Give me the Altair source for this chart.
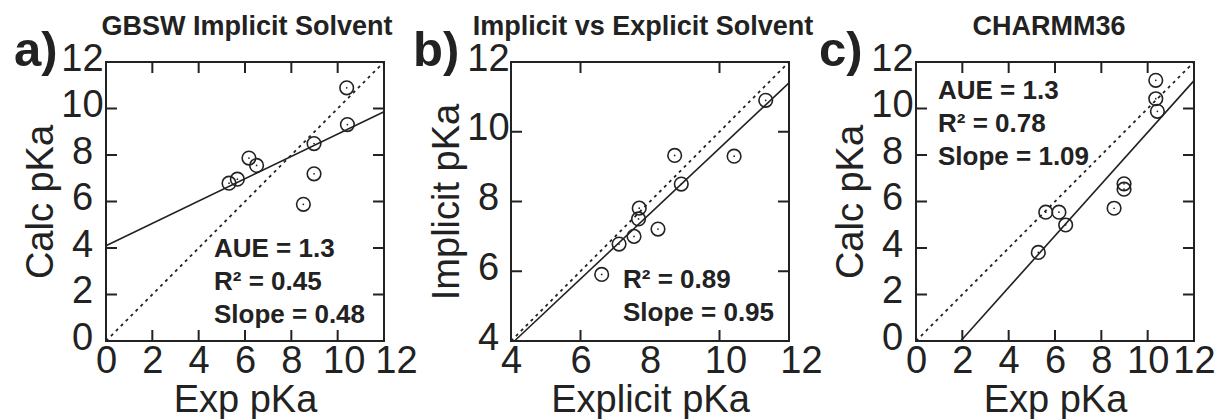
import altair as alt
import pandas as pd

# ---- a) GBSW implicit solvent: calculated vs experimental pKa ----
a_exp = [5.31, 5.67, 6.17, 6.50, 8.52, 8.98, 8.98, 10.39, 10.42]
a_calc = [6.79, 6.96, 7.87, 7.55, 5.88, 8.49, 7.19, 10.89, 9.31]
a_fit_x = [0.0, 12.0]
a_fit_y = [4.10, 9.86]
a_stats = ["AUE = 1.3", "R² = 0.45", "Slope = 0.48"]

# ---- b) implicit vs explicit solvent pKa ----
b_explicit = [6.61, 7.11, 7.54, 7.69, 7.67, 8.23, 8.71, 8.90, 10.42, 11.33]
b_implicit = [5.91, 6.78, 7.00, 7.81, 7.50, 7.21, 9.32, 8.50, 9.30, 10.90]
b_fit_x = [4.10, 12.0]
b_fit_y = [4.00, 11.40]
b_stats = ["R² = 0.89", "Slope = 0.95"]

# ---- c) CHARMM36: calculated vs experimental pKa ----
c_exp = [5.28, 5.60, 6.17, 6.46, 8.55, 8.98, 8.98, 10.35, 10.35, 10.42]
c_calc = [3.81, 5.54, 5.54, 4.99, 5.71, 6.76, 6.53, 11.21, 10.42, 9.88]
c_fit_x = [1.93, 12.0]
c_fit_y = [0.00, 11.20]
c_stats = ["AUE = 1.3", "R² = 0.78", "Slope = 1.09"]

W, H = 278, 279
INK = "#222222"
FONT = "Liberation Sans"
TICK = 11

# two-digit x labels sit a little right of their tick in panels a and b
SPREAD = alt.ExprRef("datum.value == 12 ? 12 : (datum.value == 10 ? 6 : 0)")


def one_row():
    return pd.DataFrame({"k": [0]})


def panel(xs, ys, fit_x, fit_y, lo, hi, xticks, yticks, x_title, y_title,
          title, title_dx, letter, letter_dx, stats, stats_x, stats_y,
          x_shift, y_pad):
    xs_ = alt.Scale(domain=[lo, hi], nice=False, zero=False)
    ys_ = alt.Scale(domain=[lo, hi], nice=False, zero=False)
    labels = list(range(lo, hi + 1, 2))
    xax = alt.Axis(values=labels, title=x_title, labelOffset=x_shift)
    # y labels are centred in a column left of the frame
    yax = alt.Axis(values=labels, title=y_title, labelAlign="center",
                   labelPadding=y_pad)

    def X(f):
        return alt.X(f, scale=xs_, axis=xax)

    def Y(f):
        return alt.Y(f, scale=ys_, axis=yax)

    pts = pd.DataFrame({"x": xs, "y": ys})
    circles = alt.Chart(pts).mark_point(
        shape="circle", filled=False, size=185, strokeWidth=1.6,
        color=INK, opacity=1
    ).encode(x=X("x:Q"), y=Y("y:Q"))
    dots = alt.Chart(pts).mark_circle(size=3, color=INK, opacity=1).encode(
        x=X("x:Q"), y=Y("y:Q"))

    diag = alt.Chart(pd.DataFrame({"x": [lo, hi], "y": [lo, hi]})).mark_line(
        color=INK, strokeWidth=1.8, strokeDash=[3, 4]
    ).encode(x=X("x:Q"), y=Y("y:Q"))
    fit = alt.Chart(pd.DataFrame({"x": fit_x, "y": fit_y})).mark_line(
        color=INK, strokeWidth=1.6
    ).encode(x=X("x:Q"), y=Y("y:Q"))

    # inward ticks on all four sides of the frame
    xt = alt.Chart(pd.DataFrame({"x": xticks}))
    yt = alt.Chart(pd.DataFrame({"y": yticks}))
    tick_bottom = xt.mark_rule(color=INK, strokeWidth=2).encode(
        x=X("x:Q"), y=alt.value(H), y2=alt.value(H - TICK))
    tick_top = xt.mark_rule(color=INK, strokeWidth=2).encode(
        x=X("x:Q"), y=alt.value(0), y2=alt.value(TICK))
    tick_left = yt.mark_rule(color=INK, strokeWidth=2).encode(
        y=Y("y:Q"), x=alt.value(0), x2=alt.value(TICK))
    tick_right = yt.mark_rule(color=INK, strokeWidth=2).encode(
        y=Y("y:Q"), x=alt.value(W), x2=alt.value(W - TICK))

    heading = alt.Chart(one_row()).mark_text(
        font=FONT, fontSize=27, fontWeight="bold", color=INK,
        align="center", baseline="alphabetic"
    ).encode(x=alt.value(W / 2 + title_dx), y=alt.value(-27), text=alt.value(title))

    tag = alt.Chart(one_row()).mark_text(
        font=FONT, fontSize=49, fontWeight="bold", color=INK,
        align="left", baseline="alphabetic"
    ).encode(x=alt.value(letter_dx), y=alt.value(4), text=alt.value(letter))

    note = alt.Chart(one_row()).mark_text(
        font=FONT, fontSize=26, fontWeight="bold", color=INK,
        align="left", baseline="alphabetic", lineBreak="\n", lineHeight=33
    ).encode(x=alt.value(stats_x), y=alt.value(stats_y),
             text=alt.value("\n".join(stats)))

    return alt.layer(
        diag, fit, circles, dots,
        tick_bottom, tick_top, tick_left, tick_right,
        note, heading, tag,
    ).properties(width=W, height=H)


pa = panel(a_exp, a_calc, a_fit_x, a_fit_y, 0, 12,
           [2, 4, 6, 8, 10], [2, 4, 6, 8, 10],
           "Exp pKa", "Calc pKa", "GBSW Implicit Solvent", 2, "a)", -92,
           a_stats, 108, 195, SPREAD, 24)
pb = panel(b_explicit, b_implicit, b_fit_x, b_fit_y, 4, 12,
           [6, 10], [6, 8, 10],
           "Explicit pKa", "Implicit pKa", "Implicit vs Explicit Solvent", -7, "b)", -98,
           b_stats, 112, 226, SPREAD, 23)
pc = panel(c_exp, c_calc, c_fit_x, c_fit_y, 0, 12,
           [2, 4, 6, 8, 10], [2, 4, 6, 8, 10],
           "Exp pKa", "Calc pKa", "CHARMM36", -6, "c)", -97,
           c_stats, 22, 37, 0, 24)

chart = alt.hconcat(pa, pb, pc, spacing=127, bounds="flush").properties(
    padding={"left": 13, "top": 12, "right": 0, "bottom": 0}
).configure_view(
    stroke=INK, strokeWidth=2
).configure_axis(
    labelFont=FONT, labelFontSize=38, labelColor=INK, labelPadding=1,
    labelOverlap=False, labelFlush=False,
    titleFont=FONT, titleFontSize=38, titleFontWeight="normal", titleColor=INK,
    titlePadding=1, ticks=False, tickSize=0, domain=False, grid=False,
).configure_axisY(
    titlePadding=0, labelOffset=-3,
)

chart.save("out.html", embed_options={"renderer": "svg", "actions": False})
